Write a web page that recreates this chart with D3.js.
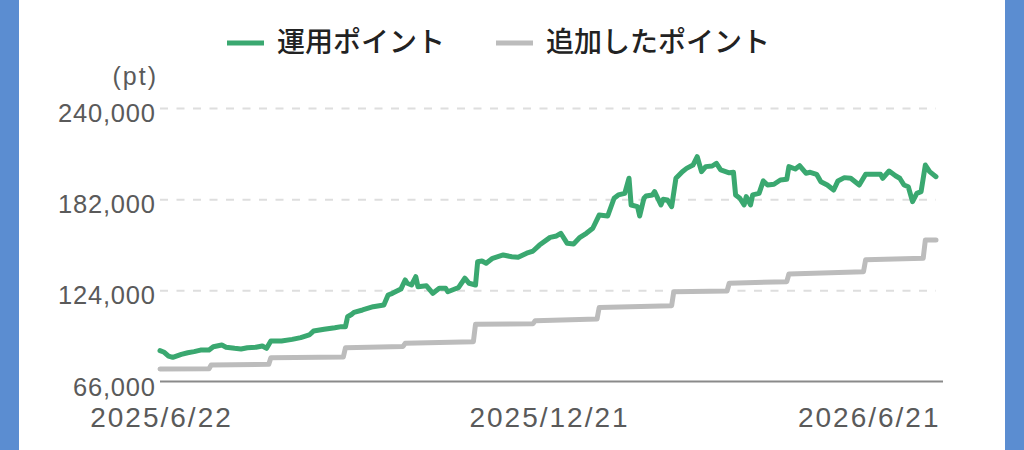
<!DOCTYPE html>
<html><head><meta charset="utf-8">
<script src="https://cdn.jsdelivr.net/npm/d3@7/dist/d3.min.js"></script>
<style>
html,body{margin:0;padding:0;background:#fff;}
svg{display:block;}
.cjk{font-family:"Noto Sans CJK JP","Noto Sans",sans-serif;}
.num{font-family:"Liberation Sans",Arial,sans-serif;}
</style></head>
<body>
<svg id="chart" width="1024" height="450"></svg>
<script>
// ---- data ----
const seriesNames = ["運用ポイント", "追加したポイント"];
const seriesColors = ["#3aa870", "#bcbcbc"];
const unitLabel = "(pt)";
const yTicks = [66000, 124000, 182000, 240000];
const xTickDates = ["2025-06-22", "2025-12-21", "2026-06-21"];
const xTickLabels = ["2025/6/22", "2025/12/21", "2026/6/21"];

const investDates = [
"2025-06-22","2025-06-24","2025-06-26","2025-06-28","2025-07-02","2025-07-05","2025-07-08","2025-07-11",
"2025-07-15","2025-07-17","2025-07-21","2025-07-23","2025-07-27","2025-07-30","2025-08-02","2025-08-06",
"2025-08-09","2025-08-11","2025-08-13","2025-08-18","2025-08-23","2025-08-27","2025-08-31","2025-09-02",
"2025-09-07","2025-09-12","2025-09-15","2025-09-17","2025-09-18","2025-09-20","2025-09-21","2025-09-25",
"2025-09-30","2025-10-05","2025-10-07","2025-10-09","2025-10-13","2025-10-15","2025-10-16","2025-10-18",
"2025-10-20","2025-10-21","2025-10-25","2025-10-28","2025-10-31","2025-11-03","2025-11-04","2025-11-07",
"2025-11-09","2025-11-12","2025-11-14","2025-11-17","2025-11-18","2025-11-20","2025-11-22","2025-11-25",
"2025-11-30","2025-12-04","2025-12-07","2025-12-11","2025-12-14","2025-12-17","2025-12-22","2025-12-25",
"2025-12-27","2025-12-30","2026-01-02","2026-01-05","2026-01-08","2026-01-11","2026-01-14","2026-01-18",
"2026-01-21","2026-01-23","2026-01-26","2026-01-28","2026-01-29","2026-02-01","2026-02-02","2026-02-04",
"2026-02-05","2026-02-08","2026-02-09","2026-02-12","2026-02-13","2026-02-15","2026-02-17","2026-02-19",
"2026-02-22","2026-02-24","2026-02-27","2026-03-01","2026-03-03","2026-03-05","2026-03-08","2026-03-10",
"2026-03-12","2026-03-16","2026-03-18","2026-03-19","2026-03-21","2026-03-23","2026-03-24","2026-03-26",
"2026-03-27","2026-03-30","2026-04-01","2026-04-03","2026-04-06","2026-04-09","2026-04-12","2026-04-13",
"2026-04-16","2026-04-18","2026-04-21","2026-04-23","2026-04-26","2026-04-28","2026-05-01","2026-05-04",
"2026-05-06","2026-05-09","2026-05-12","2026-05-16","2026-05-19","2026-05-23","2026-05-26","2026-05-27",
"2026-05-30","2026-06-02","2026-06-04","2026-06-06","2026-06-08","2026-06-10","2026-06-12","2026-06-14",
"2026-06-16","2026-06-18","2026-06-21"];
const investValues = [
85600,84600,82200,81400,83300,84300,85000,86000,
86000,88100,89200,87800,87100,86700,87500,87800,
88600,87100,91800,91800,92800,93900,95600,98100,
99200,100200,100900,100900,107200,108800,110000,111500,
113600,114700,121000,122100,124800,130600,128500,127400,
132700,126300,126900,122100,125300,125300,123100,124700,
125700,131700,128500,127400,142200,142700,141200,144400,
146500,145400,145000,147600,149000,152800,157700,158600,
160300,153900,153500,157700,160300,163500,171900,171300,
182600,184700,185700,195300,178300,177200,171300,182600,
184000,184700,186800,178300,181900,181500,177200,195300,
199500,201600,203700,209000,199500,202700,203100,204800,
200600,198800,199100,184700,182600,178300,183600,178300,
184700,185700,193600,191000,191500,194200,194600,202700,
201200,203300,198500,199100,197800,193100,191000,187800,
193600,195700,195300,191000,197800,197800,197800,195300,
199900,196900,195300,191000,189900,180400,185700,186800,
203700,199500,196300];

const addedDates = [
"2025-06-22","2025-07-15","2025-07-16","2025-08-12","2025-08-13","2025-09-16","2025-09-17","2025-10-14",
"2025-10-15","2025-11-16","2025-11-17","2025-12-14","2025-12-15","2026-01-13","2026-01-14","2026-02-17",
"2026-02-18","2026-03-15","2026-03-16","2026-04-12","2026-04-13","2026-05-18","2026-05-19","2026-06-15",
"2026-06-16","2026-06-21"];
const addedValues = [
74000,74100,76500,76900,81100,81600,87500,88300,
90300,91300,102400,102800,104700,105800,113000,114200,
123100,123600,128500,129500,134400,135900,143500,144400,
156000,156000];

// ---- chart ----
const parse = d3.timeParse("%Y-%m-%d");
const svg = d3.select("#chart");
const W = 1024, H = 450;
const labelColor = "#5a5a5a";

// side bars
svg.append("rect").attr("x",0).attr("y",0).attr("width",19).attr("height",H).attr("fill","#5b8dd1");
svg.append("rect").attr("x",1005).attr("y",0).attr("width",19).attr("height",H).attr("fill","#5b8dd1");

const x = d3.scaleTime()
  .domain([parse(xTickDates[0]), parse(xTickDates[2])])
  .range([160, 936]);
const y = d3.scaleLinear()
  .domain([yTicks[0], yTicks[yTicks.length-1]])
  .range([381.5, 108]);

// gridlines (dashed)
const gridAxis = d3.axisLeft(y).tickValues(yTicks.slice(1)).tickSize(-(936-160)).tickFormat("");
const gg = svg.append("g").attr("transform","translate(160,0)").call(gridAxis);
gg.select(".domain").remove();
gg.selectAll(".tick line").attr("stroke","#dedede").attr("stroke-width",2).attr("stroke-dasharray","8,8.5");

// y labels
const yAxis = d3.axisLeft(y).tickValues(yTicks).tickSize(0).tickPadding(0)
  .tickFormat(d3.format(","));
const ya = svg.append("g").attr("transform","translate(160,0)").call(yAxis);
ya.select(".domain").remove();
ya.attr("font-family",null).attr("font-size",null);
ya.selectAll(".tick text")
  .attr("class","num")
  .style("font-size","25.5px").attr("fill",labelColor)
  .style("letter-spacing","0.8px")
  .attr("dy",null).attr("y",13.5).attr("x",-4.2);

// unit label
svg.append("text").attr("class","num").attr("x",158).attr("y",85).attr("text-anchor","end")
  .style("letter-spacing","2px").style("font-size","25px").attr("fill",labelColor).text(unitLabel);

// x axis baseline
svg.append("line").attr("x1",160).attr("x2",943).attr("y1",y(yTicks[0])).attr("y2",y(yTicks[0]))
  .attr("stroke","#8a8a8a").attr("stroke-width",2);

// x labels
const xAxis = d3.axisBottom(x).tickValues(xTickDates.map(parse)).tickSize(0).tickPadding(0)
  .tickFormat((d,i)=>xTickLabels[i]);
const xa = svg.append("g").call(xAxis);
xa.select(".domain").remove();
xa.attr("font-family",null).attr("font-size",null);
xa.selectAll(".tick text")
  .attr("class","num")
  .style("font-size","28px").attr("fill",labelColor)
  .style("letter-spacing","2px")
  .attr("y",427).attr("dy",null)
  .attr("text-anchor",(d,i)=> i===xTickDates.length-1 ? "end" : "middle")
  .attr("x",(d,i)=> i===xTickDates.length-1 ? 4 : 1);

// lines
const line = d3.line().x(d=>x(d[0])).y(d=>y(d[1])).curve(d3.curveLinear);
const added = addedDates.map((d,i)=>[parse(d), addedValues[i]]);
const invest = investDates.map((d,i)=>[parse(d), investValues[i]]);
svg.append("path").datum(added).attr("d",line).attr("fill","none")
  .attr("stroke",seriesColors[1]).attr("stroke-width",5).attr("stroke-linejoin","round").attr("stroke-linecap","round");
svg.append("path").datum(invest).attr("d",line).attr("fill","none")
  .attr("stroke",seriesColors[0]).attr("stroke-width",5).attr("stroke-linejoin","round").attr("stroke-linecap","round");

// legend
const legendX = [227, 496];
seriesNames.forEach((name,i)=>{
  svg.append("line").attr("x1",legendX[i]).attr("x2",legendX[i]+37).attr("y1",43).attr("y2",43)
    .attr("stroke",seriesColors[i]).attr("stroke-width",5);
  svg.append("text").attr("class","cjk").attr("x",legendX[i]+50).attr("y",52)
    .style("font-size","28px").style("font-weight",500)
    .attr("fill","#222").text(name);
});
</script>
</body></html>
